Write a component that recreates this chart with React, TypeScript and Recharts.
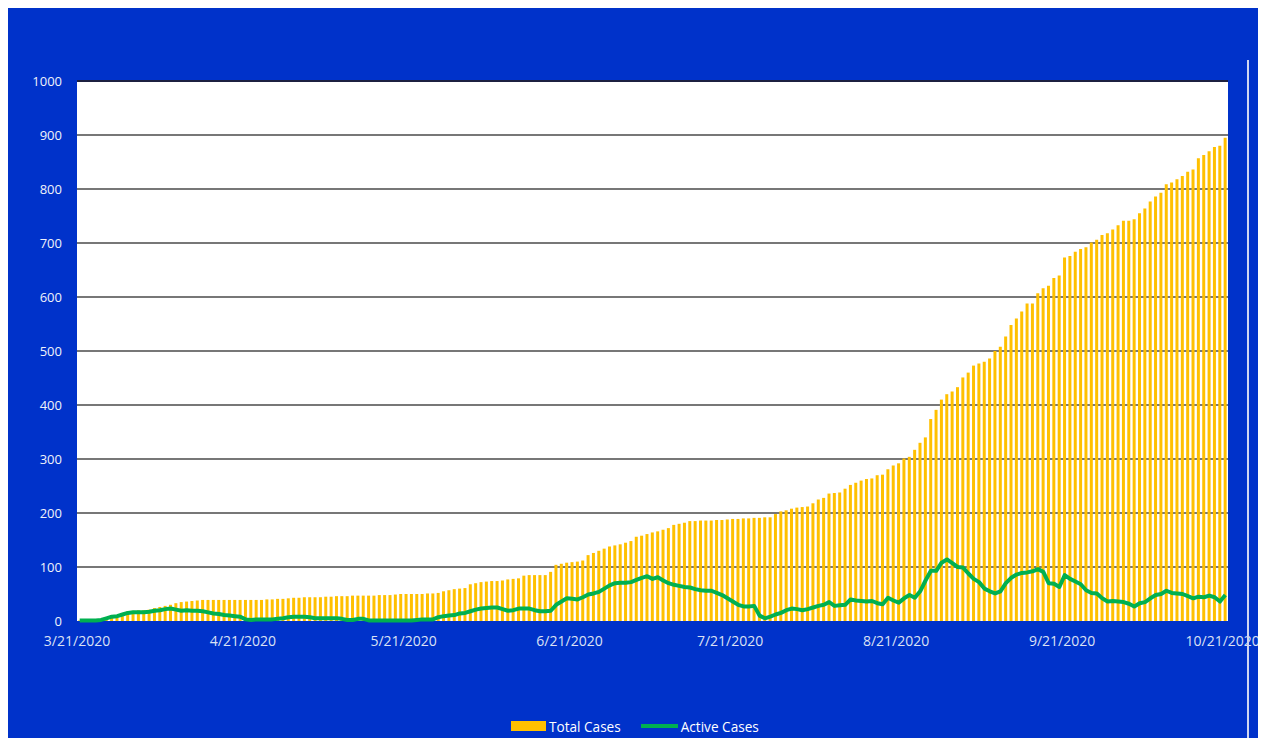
import React from 'react';
import { ComposedChart, Bar, Line, XAxis, YAxis, CartesianGrid, Legend, ReferenceLine } from 'recharts';

// daily values, 3/21/2020 .. 10/21/2020
const totalCases = [
  1, 1, 2, 2, 3, 4, 6, 8, 9, 18,
  19, 20, 20, 21, 24, 26, 28, 30, 33, 35,
  36, 37, 38, 39, 39, 39, 39, 39, 39, 39,
  39, 39, 39, 39, 39, 40, 40, 41, 41, 42,
  43, 43, 44, 44, 44, 44, 45, 45, 46, 46,
  46, 47, 47, 47, 47, 47, 48, 48, 48, 49,
  50, 50, 50, 50, 50, 51, 51, 52, 55, 57,
  59, 60, 61, 68, 70, 72, 73, 74, 74, 75,
  77, 78, 79, 84, 85, 85, 85, 85, 91, 104,
  106, 108, 109, 110, 112, 122, 126, 130, 134, 138,
  140, 142, 145, 148, 156, 158, 161, 164, 166, 169,
  172, 178, 180, 182, 185, 185, 186, 186, 186, 187,
  187, 188, 189, 189, 190, 190, 191, 191, 192, 192,
  198, 203, 205, 208, 210, 211, 212, 218, 225, 228,
  236, 237, 238, 245, 252, 256, 260, 263, 264, 270,
  271, 281, 288, 292, 301, 304, 317, 330, 340, 374,
  391, 410, 420, 425, 433, 451, 460, 473, 477, 480,
  486, 500, 508, 527, 548, 560, 573, 588, 588, 607,
  616, 621, 635, 640, 673, 676, 684, 689, 692, 701,
  706, 715, 718, 725, 733, 741, 741, 744, 755, 764,
  777, 786, 793, 809, 812, 818, 824, 832, 836, 857,
  863, 870, 878, 880, 895,
];

const activeCases = [
  1, 1, 1, 1, 2, 5, 8, 9, 12, 15,
  16, 16, 16, 17, 19, 20, 22, 23, 21, 19,
  20, 19, 19, 18, 16, 14, 13, 11, 10, 9,
  8, 3, 2, 3, 3, 3, 3, 4, 5, 7,
  8, 8, 8, 7, 5, 5, 5, 5, 5, 4,
  2, 2, 4, 4, 1, 1, 1, 1, 1, 1,
  1, 1, 1, 2, 3, 3, 3, 7, 9, 10,
  11, 14, 15, 18, 21, 23, 24, 25, 25, 22,
  19, 20, 23, 23, 23, 20, 18, 18, 19, 30,
  36, 42, 41, 40, 44, 49, 51, 54, 60, 66,
  70, 71, 71, 72, 76, 80, 83, 78, 81, 75,
  70, 67, 65, 63, 62, 59, 57, 56, 56, 52,
  48, 42, 36, 30, 27, 27, 28, 10, 5, 8,
  12, 15, 20, 23, 22, 20, 22, 25, 28, 30,
  35, 28, 29, 30, 40, 38, 37, 36, 37, 33,
  31, 43, 38, 34, 42, 48, 43, 55, 75, 93,
  93, 108, 114, 107, 100, 99, 88, 78, 72, 60,
  55, 51, 55, 70, 80, 86, 89, 90, 92, 96,
  91, 70, 69, 63, 85, 78, 73, 68, 57, 52,
  51, 42, 36, 37, 36, 35, 32, 27, 33, 35,
  42, 48, 50, 56, 52, 51, 50, 46, 42, 45,
  44, 47, 44, 36, 48,
];

const tickLabels = ['3/21/2020', '4/21/2020', '5/21/2020', '6/21/2020', '7/21/2020', '8/21/2020', '9/21/2020', '10/21/2020'];
const yTicks = [0, 100, 200, 300, 400, 500, 600, 700, 800, 900, 1000];
const gridValues = [100, 200, 300, 400, 500, 600, 700, 800, 900];
const legendOrder = ['Total Cases', 'Active Cases'];

const days = totalCases.map((_, i) => {
  const d = new Date(2020, 2, 21 + i);
  return `${d.getMonth() + 1}/${d.getDate()}/${d.getFullYear()}`;
});

const data = days.map((date, i) => ({ date, total: totalCases[i], active: activeCases[i] }));

const FONT = '"Open Sans", "Noto Sans", sans-serif';

// the panel runs to the window's right/bottom edge; keep scrollbars out of the shot
document.documentElement.style.overflow = 'hidden';

// Excel puts the date labels on the category boundaries, not the centres
const DateTick = (props: any) => {
  const { x, y, payload } = props;
  return (
    <text x={x - (payload.offset || 0)} y={y} dy={25} textAnchor="middle" fill="#DCE1F5" fontSize={14} fontFamily={FONT}>
      {payload.value}
    </text>
  );
};

const LegendContent = ({ payload }: any) => {
  const items = [...(payload || [])].sort((a: any, b: any) => legendOrder.indexOf(a.value) - legendOrder.indexOf(b.value));
  return (
    <div style={{ display: 'flex', alignItems: 'center', height: 22, fontFamily: FONT, fontSize: 13.6, color: '#ffffff' }}>
      {items.map((p: any) => (
        <span key={p.value} style={{ display: 'flex', alignItems: 'center', marginRight: 20 }}>
          {p.type === 'line' ? (
            <span style={{ display: 'inline-block', width: 37, height: 4, background: p.color }} />
          ) : (
            <span style={{ display: 'inline-block', width: 35, height: 10, background: p.color }} />
          )}
          <span style={{ marginLeft: 3 }}>{p.value}</span>
        </span>
      ))}
    </div>
  );
};

export default function App() {
  return (
    <div style={{ position: 'relative', width: 1266, height: 738, background: '#0032CA' }}>
      <ComposedChart width={1258} height={730} data={data} margin={{ top: 73, right: 38, left: 0, bottom: 4 }}>
        <CartesianGrid vertical={false} horizontalValues={gridValues} stroke="#4a4a4a" strokeWidth={1.6} fill="#ffffff" fillOpacity={1} />
        <XAxis
          dataKey="date"
          ticks={tickLabels}
          interval={0}
          axisLine={false}
          tickLine={false}
          tickSize={0}
          tickMargin={0}
          height={91}
          tick={<DateTick />}
        />
        <YAxis
          domain={[0, 1000]}
          ticks={yTicks}
          axisLine={false}
          tickLine={false}
          tickSize={6}
          tickMargin={9}
          width={69}
          tick={{ fill: '#F0F2FA', fontSize: 13, fontFamily: FONT }}
        />
        <ReferenceLine y={1000} stroke="#1c2040" strokeWidth={2} />
        <Bar dataKey="total" name="Total Cases" fill="#FFC000" barSize={3} isAnimationActive={false} />
        <Line
          type="linear"
          dataKey="active"
          name="Active Cases"
          stroke="#00B050"
          strokeWidth={4}
          dot={false}
          strokeLinejoin="round"
          isAnimationActive={false}
        />
        <Legend verticalAlign="bottom" content={<LegendContent />} wrapperStyle={{ left: 503, bottom: 1, width: 'auto' }} />
      </ComposedChart>
      <div style={{ position: 'absolute', left: 1239, top: 52, width: 2, height: 686, background: '#D0D6F0' }} />
    </div>
  );
}
